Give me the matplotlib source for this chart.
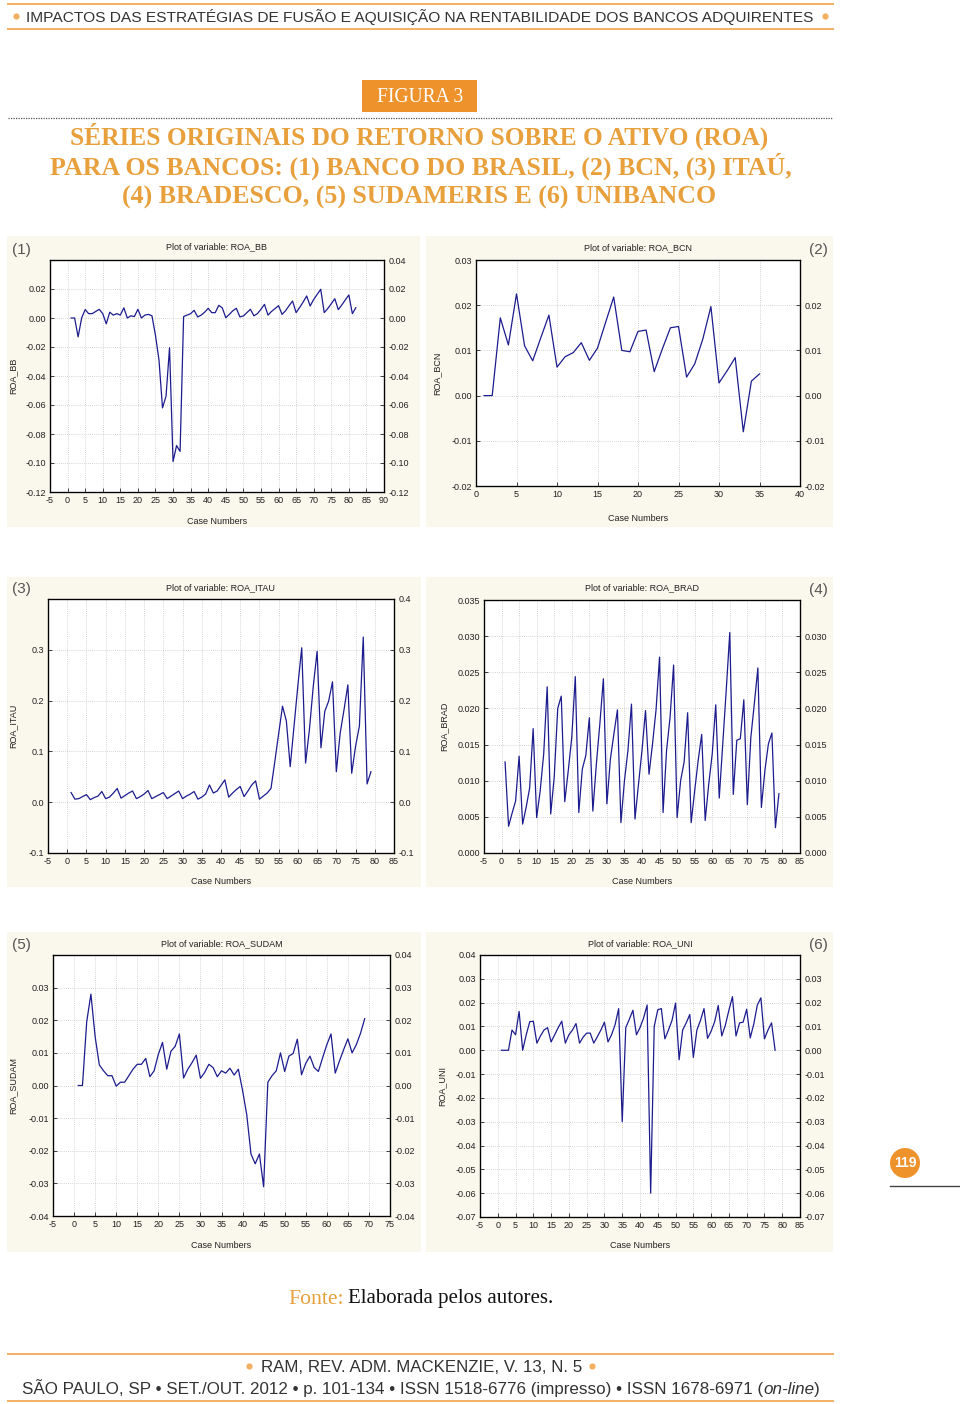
import numpy as np
import matplotlib
matplotlib.use('Agg')
import matplotlib.pyplot as plt
from matplotlib.patches import Rectangle, Circle

plt.rcParams['font.family'] = ['Liberation Sans', 'DejaVu Sans']

W, H = 960, 1404

# ROA series (case numbers start at 1)
roa_bb = [0.000, 0.000, -0.013, 0.000, 0.0058, 0.003, 0.003, 0.0045, 0.006, 0.003,
          -0.004, 0.004, 0.002, 0.003, 0.002, 0.007, 0.000, 0.0015, 0.001, 0.006,
          0.000, 0.002, 0.0025, 0.0015, -0.012, -0.029, -0.062, -0.054, -0.0205, -0.099,
          -0.088, -0.092, 0.001, 0.002, 0.003, 0.0053, 0.0007, 0.002, 0.004, 0.0067,
          0.0037, 0.0037, 0.0087, 0.007, 0.0002, 0.0025, 0.005, 0.0067, 0.0008, 0.0014,
          0.0037, 0.006, 0.0015, 0.003, 0.006, 0.0094, 0.002, 0.0045, 0.0065, 0.0085,
          0.0025, 0.005, 0.0085, 0.0117, 0.0037, 0.0072, 0.011, 0.0152, 0.0083, 0.0128,
          0.0163, 0.0198, 0.0037, 0.0065, 0.0098, 0.0133, 0.0058, 0.009, 0.0125, 0.0159,
          0.003, 0.0071]

roa_bcn = [0.000, 0.000, 0.0172, 0.0112, 0.0225, 0.011, 0.0077, 0.0128, 0.0178, 0.0063,
           0.0086, 0.0095, 0.0117, 0.0078, 0.0105, 0.0162, 0.0218, 0.010, 0.0097, 0.0142,
           0.0145, 0.0053, 0.0103, 0.015, 0.0153, 0.0041, 0.007, 0.0125, 0.0197, 0.0028,
           0.0055, 0.0084, -0.008, 0.0032, 0.0048]

roa_itau = [0.019, 0.006, 0.007, 0.011, 0.015, 0.005, 0.009, 0.012, 0.021, 0.007,
            0.010, 0.018, 0.027, 0.008, 0.013, 0.018, 0.022, 0.007, 0.011, 0.016,
            0.023, 0.007, 0.011, 0.015, 0.019, 0.007, 0.012, 0.017, 0.022, 0.007,
            0.012, 0.016, 0.021, 0.006, 0.010, 0.016, 0.034, 0.018, 0.022, 0.033,
            0.044, 0.010, 0.018, 0.025, 0.031, 0.011, 0.022, 0.034, 0.042, 0.006,
            0.012, 0.018, 0.027, 0.080, 0.135, 0.189, 0.160, 0.070, 0.150, 0.230,
            0.304, 0.077, 0.143, 0.228, 0.297, 0.107, 0.179, 0.199, 0.237, 0.060,
            0.136, 0.182, 0.231, 0.057, 0.110, 0.150, 0.325, 0.036, 0.060]

roa_brad = [0.0126, 0.0037, 0.0055, 0.0072, 0.0134, 0.0040, 0.0063, 0.0090, 0.0172, 0.0049,
            0.0086, 0.0137, 0.0230, 0.0054, 0.0105, 0.0200, 0.0217, 0.0071, 0.0114, 0.0160,
            0.0244, 0.0056, 0.0116, 0.0135, 0.0187, 0.0058, 0.0123, 0.0179, 0.0241, 0.0068,
            0.0130, 0.0165, 0.0198, 0.0042, 0.0100, 0.0142, 0.0206, 0.0047, 0.0095, 0.0142,
            0.0197, 0.0109, 0.0151, 0.0198, 0.0271, 0.0056, 0.0142, 0.0188, 0.0260, 0.0049,
            0.0100, 0.0126, 0.0194, 0.0042, 0.0086, 0.0128, 0.0164, 0.0045, 0.0095, 0.0137,
            0.0205, 0.0076, 0.0151, 0.0226, 0.0305, 0.0081, 0.0156, 0.0158, 0.0212, 0.0067,
            0.0160, 0.0207, 0.0256, 0.0063, 0.0114, 0.0151, 0.0166, 0.0035, 0.0082]

roa_sudam = [0.000, 0.000, 0.0195, 0.028, 0.015, 0.0063, 0.0045, 0.003, 0.003, -0.0002,
             0.001, 0.001, 0.003, 0.005, 0.0065, 0.0065, 0.0083, 0.0027, 0.0045, 0.0095,
             0.0132, 0.005, 0.0105, 0.012, 0.0158, 0.0023, 0.005, 0.007, 0.0093, 0.0022,
             0.004, 0.0065, 0.0055, 0.0027, 0.0045, 0.0038, 0.0053, 0.0032, 0.005, -0.0015,
             -0.009, -0.021, -0.024, -0.021, -0.031, 0.001, 0.003, 0.0045, 0.010, 0.0043,
             0.009, 0.0098, 0.0142, 0.0033, 0.0068, 0.009, 0.0055, 0.0043, 0.0085, 0.0125,
             0.0158, 0.0038, 0.0075, 0.011, 0.0143, 0.010, 0.0125, 0.016, 0.0205]

roa_uni = [0.000, 0.000, 0.000, 0.0085, 0.0065, 0.0163, 0.000, 0.0065, 0.012, 0.0122,
           0.003, 0.006, 0.0085, 0.0095, 0.0035, 0.0065, 0.0095, 0.0122, 0.003, 0.0065,
           0.0085, 0.0112, 0.003, 0.0055, 0.0072, 0.0072, 0.003, 0.0057, 0.0085, 0.0118,
           0.0035, 0.0065, 0.0108, 0.0175, -0.030, 0.0095, 0.013, 0.0168, 0.0065, 0.0095,
           0.0135, 0.019, -0.060, 0.010, 0.017, 0.0175, 0.0048, 0.0085, 0.0125, 0.0198,
           -0.004, 0.0085, 0.0115, 0.015, -0.003, 0.0085, 0.0125, 0.0175, 0.005, 0.008,
           0.012, 0.0188, 0.006, 0.0105, 0.0168, 0.0225, 0.006, 0.0115, 0.0118, 0.0172,
           0.0052, 0.011, 0.019, 0.022, 0.0048, 0.0085, 0.0115, 0.000]

orange = '#EE922B'
gold = '#E8A03C'
light_orange = '#F2B063'
navy = '#1C1C8E'
cream = '#FAF7EC'

fig = plt.figure(figsize=(9.6, 14.04), dpi=100)
page = fig.add_axes([0, 0, 1, 1], zorder=0)
page.set_xlim(0, W)
page.set_ylim(H, 0)
page.axis('off')
renderer = fig.canvas.get_renderer()


def fit(x0, x1, y, s, size, **kw):
    t = page.text(x0, y, s, ha='left', va='center', fontsize=size, **kw)
    w = t.get_window_extent(renderer).width
    t.set_fontsize(size * (x1 - x0) / w)
    return t


def bullet(x, y):
    page.plot([x], [y], 'o', ms=4.5, color=light_orange, mec='none')


# header
page.plot([8, 833], [4, 4], color=light_orange, lw=1.4)
page.plot([8, 833], [29, 29], color=light_orange, lw=1.4)
bullet(16, 16)
bullet(825, 16)
fit(26, 814, 17, 'IMPACTOS DAS ESTRATÉGIAS DE FUSÃO E AQUISIÇÃO NA RENTABILIDADE DOS BANCOS ADQUIRENTES',
    10, color='#333333')

# figure tag and title
page.add_patch(Rectangle((362, 80), 115, 32, facecolor=orange, edgecolor='none'))
fit(377, 463, 97, 'FIGURA 3', 12, color='white', family='Liberation Serif')
page.plot([8, 833], [118, 118], color='#555555', lw=0.9, ls=(0, (1, 1)))
fit(70, 770, 136, 'SÉRIES ORIGINAIS DO RETORNO SOBRE O ATIVO (ROA)', 16,
    color=gold, family='Liberation Serif', weight='bold')
fit(50, 792, 166, 'PARA OS BANCOS: (1) BANCO DO BRASIL, (2) BCN, (3) ITAÚ,', 16,
    color=gold, family='Liberation Serif', weight='bold')
fit(122, 718, 197, '(4) BRADESCO, (5) SUDAMERIS E (6) UNIBANCO', 16,
    color=gold, family='Liberation Serif', weight='bold')


def fmt(v, d):
    if abs(v) < 1e-9:
        v = 0.0
    return '{:.{}f}'.format(v, d)


def panel(box, bg, series, name, xlim, ylim, ystep, dec, skip_left_top, tag, tag_x,
          title_y, ylab_x, xlab_y):
    l, t, r, b = box
    page.add_patch(Rectangle((bg[0], bg[1]), bg[2] - bg[0], bg[3] - bg[1],
                             facecolor=cream, edgecolor='none'))
    page.text(tag_x, t - 10, tag, fontsize=11, color='#555555', ha='center', va='center')
    ax = fig.add_axes([l / W, 1 - b / H, (r - l) / W, (b - t) / H], zorder=1)
    ax.set_facecolor('white')
    x = np.arange(1, len(series) + 1)
    ax.plot(x, series, color=navy, lw=0.9)
    ax.set_xlim(*xlim)
    ax.set_ylim(*ylim)
    xt = np.arange(xlim[0], xlim[1] + 1, 5)
    ax.set_xticks(xt)
    ax.set_xticklabels([str(v) for v in xt])
    yt = np.round(np.arange(ylim[0], ylim[1] + ystep / 2, ystep), 4)
    top = len(yt) - 1
    left_labels = [('' if (skip_left_top and i == top) else fmt(v, dec)) for i, v in enumerate(yt)]
    right_labels = [('' if (not skip_left_top and i == top) else fmt(v, dec)) for i, v in enumerate(yt)]
    ax.set_yticks(yt)
    ax.set_yticklabels(left_labels)
    ax.grid(True, color='#C9C9C9', lw=0.6, ls=(0, (1, 1.5)))
    ax.tick_params(direction='in', length=3, width=0.6, labelsize=6.5, pad=3, colors='#222222')
    for sp in ax.spines.values():
        sp.set_linewidth(0.9)
    ax2 = ax.twinx()
    ax2.set_ylim(*ylim)
    ax2.set_yticks(yt)
    ax2.set_yticklabels(right_labels)
    ax2.tick_params(direction='in', length=3, width=0.6, labelsize=6.5, pad=3, colors='#222222')
    ax.text(0.5, 1 + (t - title_y) / (b - t), 'Plot of variable: ' + name, transform=ax.transAxes,
            ha='center', va='center', fontsize=6.5, color='#222222')
    ax.set_ylabel(name, fontsize=6.5, color='#222222')
    ax.yaxis.set_label_coords((ylab_x - l) / (r - l), 0.5)
    ax.set_xlabel('Case Numbers', fontsize=6.5, color='#222222')
    ax.xaxis.set_label_coords(0.5, -(xlab_y - b) / (b - t))


panel((50, 260, 384, 492), (7, 236, 420, 527), roa_bb, 'ROA_BB', (-5, 90), (-0.12, 0.04), 0.02, 2,
      True, '(1)', 21, 247, 17, 517)
panel((476, 260, 800, 486), (426, 236, 833, 527), roa_bcn, 'ROA_BCN', (0, 40), (-0.02, 0.03), 0.01, 2,
      False, '(2)', 818, 248, 441, 514)
panel((48, 599, 394, 853), (7, 577, 421, 887), roa_itau, 'ROA_ITAU', (-5, 85), (-0.1, 0.4), 0.1, 1,
      True, '(3)', 21, 588, 17, 877)
panel((484, 600, 800, 853), (426, 577, 833, 887), roa_brad, 'ROA_BRAD', (-5, 85), (0.0, 0.035), 0.005, 3,
      False, '(4)', 818, 588, 448, 877)
panel((53, 955, 390, 1216), (7, 932, 421, 1252), roa_sudam, 'ROA_SUDAM', (-5, 75), (-0.04, 0.04), 0.01, 2,
      True, '(5)', 21, 944, 17, 1241)
panel((480, 955, 800, 1217), (426, 932, 833, 1252), roa_uni, 'ROA_UNI', (-5, 85), (-0.07, 0.04), 0.01, 2,
      False, '(6)', 818, 944, 446, 1241)

# page number
page.add_patch(Circle((905, 1163), 15, facecolor=orange, edgecolor='none'))
page.text(905, 1163, '119', color='white', fontsize=10, weight='bold', ha='center', va='center')
page.plot([890, 960], [1186, 1186], color='#444444', lw=1.0)

# source
fit(288, 343, 1299, 'Fonte:', 13, color=gold, family='Liberation Serif')
fit(348, 552, 1299, 'Elaborada pelos autores.', 13, color='#111111', family='Liberation Serif')

# footer
page.plot([8, 833], [1354, 1354], color=light_orange, lw=1.4)
page.plot([8, 833], [1401, 1401], color=light_orange, lw=1.4)
bullet(249, 1366)
bullet(592, 1366)
fit(261, 580, 1367, 'RAM, REV. ADM. MACKENZIE, V. 13, N. 5', 10, color='#333333')

# second footer line, with "on-line" in italics, all parts on a common baseline
parts = [('SÃO PAULO, SP • SET./OUT. 2012 • p. 101-134 • ISSN 1518-6776 (impresso) • ISSN 1678-6971 (', 'normal'),
         ('on-line', 'italic'), (')', 'normal')]
probe = fit(22, 818, 1388, ''.join(p for p, _ in parts), 10, color='#333333')
fs = probe.get_fontsize()
probe.remove()
xpos = 22
for s, style in parts:
    t = page.text(xpos, 1394, s, ha='left', va='baseline', fontsize=fs, style=style, color='#333333')
    xpos += t.get_window_extent(renderer).width

fig.savefig('out.png', dpi=100)
